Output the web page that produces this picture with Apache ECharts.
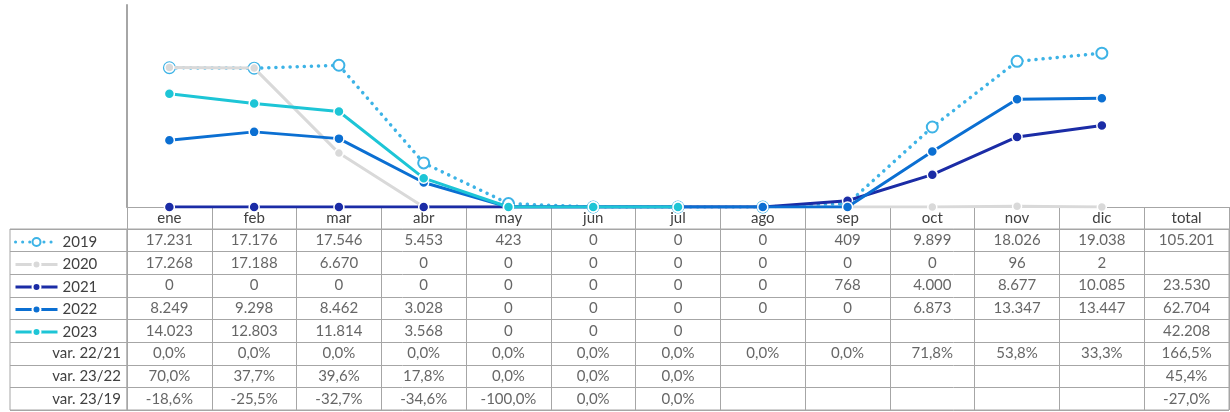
<!DOCTYPE html>
<html>
<head>
<meta charset="utf-8">
<script src="https://cdn.jsdelivr.net/npm/echarts@6/dist/echarts.min.js"></script>
<style>
html,body{margin:0;padding:0;background:#fff;}
#c{width:1230px;height:412px;}
</style>
</head>
<body>
<div id="c"></div>
<script>
// ---- data ----
var months = ['ene','feb','mar','abr','may','jun','jul','ago','sep','oct','nov','dic'];
var columns = months.concat(['total']);
var years = ['2019','2020','2021','2022','2023'];
var s2019 = [17231,17176,17546,5453,423,0,0,0,409,9899,18026,19038];
var s2020 = [17268,17188,6670,0,0,0,0,0,0,0,96,2];
var s2021 = [0,0,0,0,0,0,0,0,768,4000,8677,10085];
var s2022 = [8249,9298,8462,3028,0,0,0,0,0,6873,13347,13447];
var s2023 = [14023,12803,11814,3568,0,0,0,null,null,null,null,null];
var totals = [105201,null,23530,62704,42208];
var varLabels = ['var. 22/21','var. 23/22','var. 23/19'];
var var2221 = [0,0,0,0,0,0,0,0,0,71.8,53.8,33.3,166.5];
var var2322 = [70.0,37.7,39.6,17.8,0,0,0,null,null,null,null,null,45.4];
var var2319 = [-18.6,-25.5,-32.7,-34.6,-100.0,0,0,null,null,null,null,null,-27.0];

// ---- helpers ----
function fmtNum(v){ if(v==null) return ''; return String(v).replace(/\B(?=(\d{3})+(?!\d))/g,'.'); }
function fmtPct(v){ if(v==null) return ''; return v.toFixed(1).replace('.',',') + '%'; }

var seriesVals = [s2019,s2020,s2021,s2022,s2023];
var rowLabels = ['','','','',''].concat(varLabels);
var cells = [];
seriesVals.forEach(function(arr, r){
  arr.concat([totals[r]]).forEach(function(v, c){
    var t = fmtNum(v);
    if(t !== '') cells.push({name:t, value:[c, r]});
  });
});
[var2221,var2322,var2319].forEach(function(arr, i){
  arr.forEach(function(v, c){
    var t = fmtPct(v);
    if(t !== '') cells.push({name:t, value:[c, 5+i]});
  });
});

var FONT = 'Lato';
var TXT = '#404040';
var BORDER = '#a6a6a6';
var colors = ['#3db3e6','#d9d9d9','#1b2ca6','#0b6fd2','#1dc5d6'];

function lineSeries(i, extra){
  var s = {
    name: years[i], type:'line', data: seriesVals[i],
    xAxisIndex:0, yAxisIndex:0,
    symbol:'circle', symbolSize:10, showSymbol:true,
    lineStyle:{color:colors[i], width:3},
    itemStyle:{color:colors[i], borderColor:'#fff', borderWidth:1.5},
    emphasis:{disabled:true}, z: 2+i, animation:false
  };
  for (var k in extra) s[k] = extra[k];
  return s;
}

var chart = echarts.init(document.getElementById('c'));
chart.setOption({
  animation:false,
  textStyle:{fontFamily:FONT},
  grid:[
    {left:127, top:5, width:1102, height:202},
    {left:127, top:229, width:1102, height:181, show:true, borderColor:BORDER, borderWidth:1},
    {left:10, top:229, width:117, height:181, show:true, borderColor:BORDER, borderWidth:1}
  ],
  legend:{
    data: years, orient:'vertical', left:9, top:229, itemWidth:42, itemHeight:10, itemGap:6.5,
    selectedMode:false, lineStyle:{width:3},
    textStyle:{fontFamily:FONT, fontSize:15, color:TXT, lineHeight:16}
  },
  xAxis:[
    {type:'category', gridIndex:0, data:columns, boundaryGap:true,
     axisLine:{lineStyle:{color:BORDER, width:1}},
     axisTick:{show:true, length:22, lineStyle:{color:BORDER}},
     axisLabel:{margin:4, fontFamily:FONT, fontSize:15, color:TXT, interval:0},
     splitLine:{show:false}},
    {type:'category', gridIndex:1, data:columns, boundaryGap:true, position:'top',
     axisLine:{show:true, lineStyle:{color:BORDER}}, axisTick:{show:false}, axisLabel:{show:false},
     splitLine:{show:true, interval:0, lineStyle:{color:BORDER, width:1}}},
    {type:'value', gridIndex:2, show:false, min:0, max:1}
  ],
  yAxis:[
    {type:'value', gridIndex:0, min:0, max:25000,
     axisLine:{show:true, lineStyle:{color:BORDER, width:2}}, axisTick:{show:false},
     axisLabel:{show:false}, splitLine:{show:false}},
    {type:'category', gridIndex:1, data:rowLabels, inverse:true, boundaryGap:true,
     axisLine:{show:true, lineStyle:{color:BORDER}}, axisTick:{show:false},
     axisLabel:{show:true, interval:0, margin:6, fontFamily:FONT, fontSize:15, color:TXT},
     splitLine:{show:true, interval:0, lineStyle:{color:BORDER, width:1}}},
    {type:'category', gridIndex:2, data:rowLabels, inverse:true, boundaryGap:true,
     axisLine:{show:false}, axisTick:{show:false}, axisLabel:{show:false},
     splitLine:{show:true, interval:0, lineStyle:{color:BORDER, width:1}}}
  ],
  series:[
    lineSeries(0, {symbol:'emptyCircle', symbolSize:11,
      lineStyle:{color:colors[0], width:3.5, type:[0.1,7], cap:'round'},
      itemStyle:{color:colors[0], borderColor:colors[0], borderWidth:2}}),
    lineSeries(1, {symbolSize:9}),
    lineSeries(2, {}),
    lineSeries(3, {}),
    lineSeries(4, {}),
    {name:'tabla', type:'scatter', xAxisIndex:1, yAxisIndex:1, data:cells,
     symbolSize:1, itemStyle:{color:'rgba(0,0,0,0)'}, silent:true,
     label:{show:true, position:'inside', formatter:'{b}', fontFamily:FONT, fontSize:15, color:TXT},
     emphasis:{disabled:true}}
  ]
});
</script>
</body>
</html>
